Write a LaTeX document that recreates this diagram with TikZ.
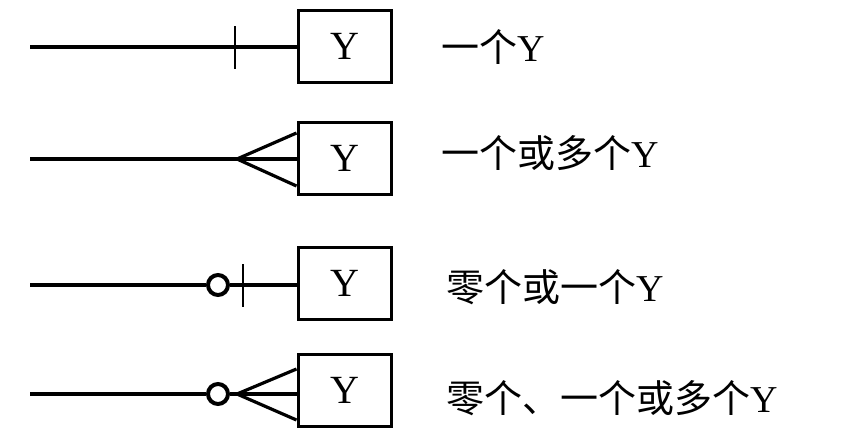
\documentclass[tikz,border=0pt]{standalone}
\usepackage{fontspec}
\setmainfont{Liberation Serif}
\newfontfamily\cjk{Noto Sans CJK SC}
\begin{document}
\begin{tikzpicture}[x=1pt,y=-1pt,
  ybox/.style={draw,line width=3pt,minimum width=93pt,minimum height=72pt,inner sep=0pt,font=\fontsize{40}{40}\selectfont},
  lbl/.style={anchor=west,inner sep=0pt,font=\fontsize{38}{38}\selectfont},
  conn/.style={line width=3.2pt},
  tick/.style={line width=2.2pt},
  zero/.style={draw,circle,line width=4pt,minimum size=20pt,inner sep=0pt}]
\useasboundingbox (0,0) rectangle (845,434);
% row 1
\node[ybox] (b1) at (344.5,46) {Y};
\coordinate (s1) at (30,47);
\draw[conn] (s1) -- (b1.west |- s1);
\coordinate (t1) at (235,47);
\draw[tick] ([yshift=-21.5pt]t1) -- ([yshift=21.5pt]t1);
\node[lbl] (l1) at (441,47) {{\cjk 一个}Y};
% row 2
\node[ybox] (b2) at (344.5,158.5) {Y};
\coordinate (s2) at (30,159);
\coordinate (a2) at (237,159);
\draw[conn] (s2) -- (b2.west |- s2);
\draw[conn] (b2.west |- 0,133) -- (a2) -- (b2.west |- 0,186);
\node[lbl] (l2) at (441,153) {{\cjk 一个或多个}Y};
% row 3
\node[ybox] (b3) at (344.5,283) {Y};
\coordinate (s3) at (30,285);
\node[zero] (c3) at (218,285) {};
\draw[conn] (s3) -- (c3.west);
\draw[conn] (c3.east) -- (b3.west |- s3);
\coordinate (t3) at (243,285);
\draw[tick] ([yshift=-21.5pt]t3) -- ([yshift=21.5pt]t3);
\node[lbl] (l3) at (446,287) {{\cjk 零个或一个}Y};
% row 4
\node[ybox] (b4) at (344.5,390.5) {Y};
\coordinate (s4) at (30,394);
\node[zero] (c4) at (218,394) {};
\coordinate (a4) at (237,394);
\draw[conn] (s4) -- (c4.west);
\draw[conn] (c4.east) -- (b4.west |- s4);
\draw[conn] (b4.west |- 0,369) -- (a4) -- (b4.west |- 0,420);
\node[lbl] (l4) at (446,398) {{\cjk 零个、一个或多个}Y};
\end{tikzpicture}
\end{document}
